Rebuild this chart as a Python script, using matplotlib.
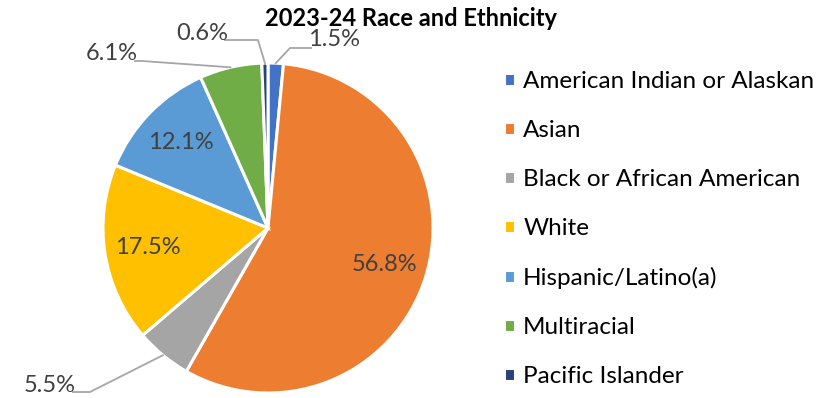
import matplotlib.pyplot as plt
import numpy as np

plt.rcParams['font.family'] = ['Lato', 'DejaVu Sans']

# дані
groups = ['American Indian or Alaskan', 'Asian', 'Black or African American',
          'White', 'Hispanic/Latino(a)', 'Multiracial', 'Pacific Islander']
shares = [1.5, 56.8, 5.5, 17.5, 12.1, 6.1, 0.6]
colors = ['#4472C4', '#ED7D31', '#A5A5A5', '#FFC000', '#5B9BD5', '#70AD47', '#264478']
title = '2023-24 Race and Ethnicity'

W, H = 834, 398
fig = plt.figure(figsize=(W / 100, H / 100), dpi=100)
ax = fig.add_axes([0, 0, 1, 1])

cx, cy, r = 268, H - 228, 165
wedges, _ = ax.pie(shares, colors=colors, startangle=90, counterclock=False,
                   center=(cx, cy), radius=r,
                   wedgeprops=dict(edgecolor='white', linewidth=2.2))
ax.set_xlim(0, W)
ax.set_ylim(0, H)
ax.set_aspect('equal')
ax.axis('off')

lbl = dict(color='#404040', fontsize=17)

# підписи всередині та зовні
# (ліктьова точка, позиція тексту, вирівнювання) для малих секторів
outside = {
    0: ((290, H - 48), (308, H - 40), 'left'),
    6: ((258, H - 40), (228, H - 33), 'right'),
    5: ((142, H - 61), (138, H - 54), 'right'),
    2: ((90, H - 392), (76, H - 385), 'right'),
}
for i, w in enumerate(wedges):
    ang = np.deg2rad((w.theta1 + w.theta2) / 2)
    txt = f'{shares[i]:.1f}%'
    if i in outside:
        elbow, pos, ha = outside[i]
        ex, ey = cx + r * np.cos(ang), cy + r * np.sin(ang)
        x_end = pos[0] + (3 if ha == 'left' else -3)
        ax.plot([ex, elbow[0], x_end], [ey, elbow[1], elbow[1]],
                color='#A6A6A6', lw=1.3)
        ax.text(pos[0], pos[1], txt, ha=ha, va='center', **lbl)
    else:
        d = 0.74 * r
        ax.text(cx + d * np.cos(ang), cy + d * np.sin(ang), txt,
                ha='center', va='center', **lbl)

ax.text(411, H - 18, title, ha='center', va='center',
        fontsize=17, fontweight='bold', color='black')

fig.legend(wedges, groups, loc='upper left', bbox_to_anchor=(494 / W, 1 - 61 / H),
           frameon=False, fontsize=17.5, handlelength=0.45, handleheight=0.45,
           handletextpad=0.35, labelspacing=1.155, borderaxespad=0)

fig.savefig('out.png', dpi=100)
